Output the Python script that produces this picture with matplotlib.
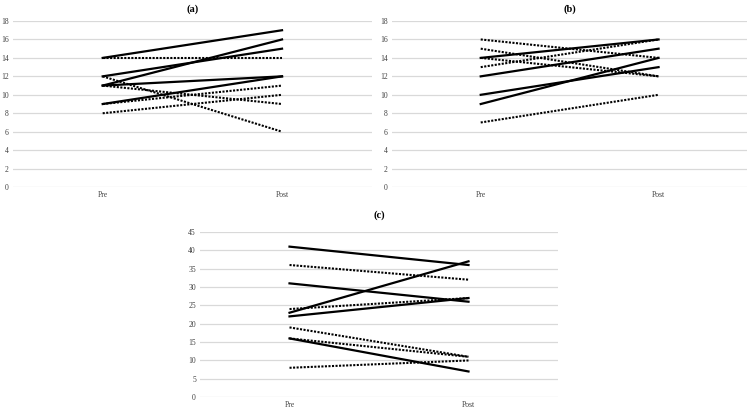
import matplotlib.pyplot as plt

plt.rcParams['font.family'] = ['Liberation Serif', 'DejaVu Serif']

# x categories
phases = ['Pre', 'Post']

# panel (a): pre / post values, solid and dotted groups
a_solid_pre = [14, 11, 12, 11, 9]
a_solid_post = [17, 16, 15, 12, 12]
a_dot_pre = [14, 12, 11, 9, 8]
a_dot_post = [14, 6, 9, 11, 10]

# panel (b)
b_solid_pre = [14, 12, 10, 9]
b_solid_post = [16, 15, 13, 14]
b_dot_pre = [16, 15, 14, 13, 7]
b_dot_post = [14, 12, 12, 16, 10]

# panel (c)
c_solid_pre = [41, 31, 23, 22, 16]
c_solid_post = [36, 26, 37, 27, 7]
c_dot_pre = [36, 24, 19, 16, 8]
c_dot_post = [32, 27, 11, 11, 10]

a_ticks = [0, 2, 4, 6, 8, 10, 12, 14, 16, 18]
c_ticks = [0, 5, 10, 15, 20, 25, 30, 35, 40, 45]


def draw_panel(ax, title, solid_pre, solid_post, dot_pre, dot_post, ticks, tpad):
    for p, q in zip(dot_pre, dot_post):
        ax.plot(phases, [p, q], color='black', linestyle=(0, (1, 0.7)), linewidth=1.5)
    for p, q in zip(solid_pre, solid_post):
        ax.plot(phases, [p, q], color='black', linestyle='-', linewidth=1.6)
    ax.set_xlim(-0.5, 1.5)
    ax.set_ylim(ticks[0], ticks[-1])
    ax.set_yticks(ticks)
    ax.grid(axis='y', color='#d9d9d9', linewidth=0.9)
    ax.set_axisbelow(True)
    for s in ax.spines.values():
        s.set_visible(False)
    ax.tick_params(axis='y', length=0, labelsize=5.5, labelcolor='#404040', pad=3)
    ax.tick_params(axis='x', length=0, labelsize=5.5, labelcolor='#404040', pad=3)
    ax.set_title(title, fontsize=7.5, fontweight='bold', pad=tpad)


fig = plt.figure(figsize=(7.52, 4.12), dpi=100)

ax_a = fig.add_axes([0.0173, 0.546, 0.477, 0.403])
draw_panel(ax_a, '(a)', a_solid_pre, a_solid_post, a_dot_pre, a_dot_post, a_ticks, 7)

ax_b = fig.add_axes([0.521, 0.546, 0.473, 0.403])
draw_panel(ax_b, '(b)', b_solid_pre, b_solid_post, b_dot_pre, b_dot_post, a_ticks, 7)

ax_c = fig.add_axes([0.266, 0.036, 0.476, 0.401])
draw_panel(ax_c, '(c)', c_solid_pre, c_solid_post, c_dot_pre, c_dot_post, c_ticks, 10)

fig.savefig('out.png', dpi=100, facecolor='white')
